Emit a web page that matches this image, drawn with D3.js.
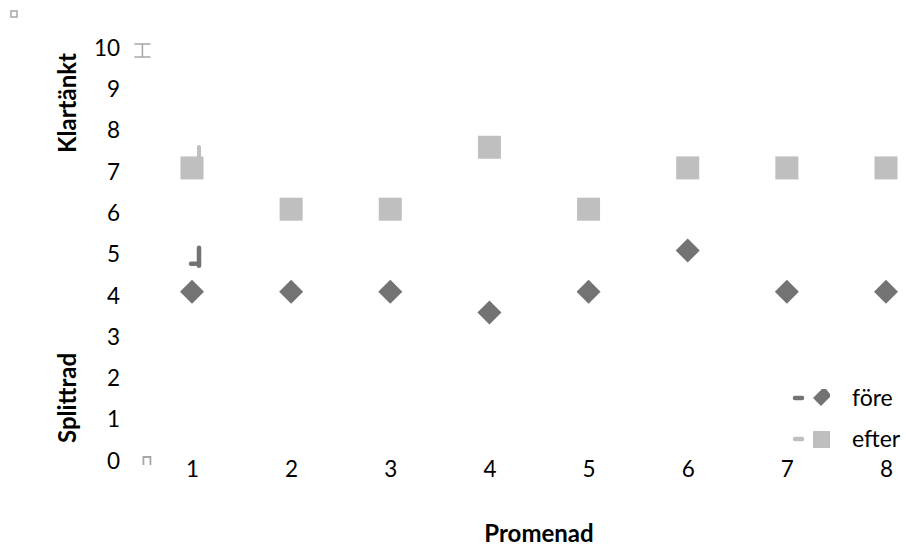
<!DOCTYPE html>
<html>
<head>
<meta charset="utf-8">
<script src="https://cdn.jsdelivr.net/npm/d3@7"></script>
<style>
  html, body { margin: 0; padding: 0; background: #fff; }
  svg text { font-family: Lato, "Open Sans", sans-serif; fill: #000; }
</style>
</head>
<body>
<svg id="chart" width="906" height="549"></svg>
<script>
// Promenad numbers and the two ratings per walk
const promenader = [1, 2, 3, 4, 5, 6, 7, 8];
const fore = [4, 4, 4, 3.5, 4, 5, 4, 4];
const efter = [7, 6, 6, 7.5, 6, 7, 7, 7];
const yTicks = [0, 1, 2, 3, 4, 5, 6, 7, 8, 9, 10];
const seriesNames = ["före", "efter"];

const svg = d3.select("#chart");
const x = d3.scaleLinear().domain([1, 8]).range([192, 886]);
const y = d3.scaleLinear().domain([0, 10]).range([457, 44]);

const darkGray = "#737373";
const lightGray = "#bfbfbf";

// y axis labels
const yAxis = svg.append("g")
  .attr("transform", "translate(120,0)")
  .call(d3.axisLeft(y).tickValues(yTicks).tickSize(0).tickPadding(0).tickFormat(d3.format("d")));
yAxis.select(".domain").remove();
yAxis.selectAll("text")
  .attr("dy", "0.5em")
  .style("font-size", "22.5px")
  .style("font-family", "Lato, sans-serif");

// x axis labels
const xAxis = svg.append("g")
  .attr("transform", "translate(0,456)")
  .call(d3.axisBottom(x).tickValues(promenader).tickSize(0).tickPadding(0).tickFormat(d3.format("d")));
xAxis.select(".domain").remove();
xAxis.selectAll("text")
  .attr("dy", "0.95em")
  .style("font-size", "22.5px")
  .style("font-family", "Lato, sans-serif");

// axis titles
svg.append("text")
  .attr("x", 539).attr("y", 542)
  .attr("text-anchor", "middle")
  .style("font-size", "24px").style("font-weight", "bold")
  .text("Promenad");

svg.append("text")
  .attr("transform", "translate(76,103) rotate(-90)")
  .attr("text-anchor", "middle")
  .style("font-size", "24px").style("font-weight", "bold")
  .text("Klartänkt");

svg.append("text")
  .attr("transform", "translate(76,398) rotate(-90)")
  .attr("text-anchor", "middle")
  .style("font-size", "24px").style("font-weight", "bold")
  .text("Splittrad");

// small decorations at the chart edges
svg.append("rect")
  .attr("x", 11).attr("y", 11).attr("width", 6).attr("height", 6)
  .attr("fill", "none").attr("stroke", "#a6a6a6").attr("stroke-width", 1.5);

const bx = x(0.5), byTop = y(10);
svg.append("path")
  .attr("d", `M${bx - 8},${byTop} H${bx + 8} M${bx},${byTop} V${byTop + 13} M${bx - 8},${byTop + 13} H${bx + 8}`)
  .attr("fill", "none").attr("stroke", "#a6a6a6").attr("stroke-width", 1.5);

const byBot = y(0);
svg.append("path")
  .attr("d", `M${bx + 1},${byBot + 8} V${byBot} H${bx + 8} V${byBot + 8}`)
  .attr("fill", "none").attr("stroke", "#a6a6a6").attr("stroke-width", 1.8);

// small stems next to the first pair of points
svg.append("path")
  .attr("d", `M${x(1) + 7},${y(fore[0]) - 26} V${y(fore[0]) - 44}`)
  .attr("stroke", darkGray).attr("stroke-width", 4.5).attr("stroke-linecap", "round").attr("fill", "none");
svg.append("path")
  .attr("d", `M${x(1) - 1},${y(fore[0]) - 28} H${x(1) + 7}`)
  .attr("stroke", darkGray).attr("stroke-width", 4.5).attr("stroke-linecap", "round").attr("fill", "none");
svg.append("path")
  .attr("d", `M${x(1) + 7},${y(efter[0]) - 12} V${y(efter[0]) - 21}`)
  .attr("stroke", lightGray).attr("stroke-width", 4).attr("stroke-linecap", "round").attr("fill", "none");

// efter markers (squares)
const sq = 23;
svg.append("g").selectAll("rect")
  .data(promenader.map((p, i) => ({ p, v: efter[i] })))
  .join("rect")
  .attr("x", d => x(d.p) - sq / 2)
  .attr("y", d => y(d.v) - sq / 2)
  .attr("width", sq).attr("height", sq)
  .attr("fill", lightGray);

// före markers (diamonds)
const diamond = d3.symbol().type(d3.symbolSquare).size(17 * 17);
svg.append("g").selectAll("path")
  .data(promenader.map((p, i) => ({ p, v: fore[i] })))
  .join("path")
  .attr("d", diamond)
  .attr("transform", d => `translate(${x(d.p)},${y(d.v)}) rotate(45)`)
  .attr("fill", darkGray);

// legend
const legend = svg.append("g");
const rows = [
  { name: seriesNames[0], color: darkGray, cy: 398 },
  { name: seriesNames[1], color: lightGray, cy: 439 }
];
rows.forEach((r, i) => {
  legend.append("line")
    .attr("x1", 795).attr("x2", 802).attr("y1", r.cy).attr("y2", r.cy)
    .attr("stroke", r.color).attr("stroke-width", 4.5).attr("stroke-linecap", "round");
  if (i === 0) {
    legend.append("path")
      .attr("d", `M813,${r.cy} L822,${r.cy - 9} L826,${r.cy - 9} L830,${r.cy - 4} L830,${r.cy - 1} L821,${r.cy + 8} Z`)
      .attr("fill", r.color);
  } else {
    legend.append("rect")
      .attr("x", 813).attr("y", r.cy - 8).attr("width", 17).attr("height", 17)
      .attr("fill", r.color);
  }
  legend.append("text")
    .attr("x", 852).attr("y", r.cy).attr("dy", "0.35em")
    .style("font-size", "23px")
    .text(r.name);
});
</script>
</body>
</html>
